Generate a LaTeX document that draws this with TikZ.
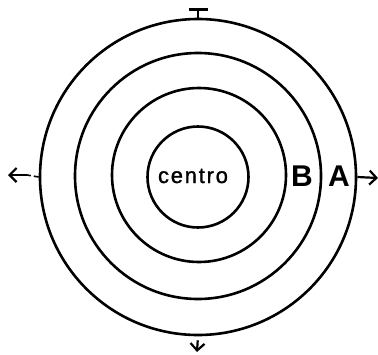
\documentclass[tikz,border=0pt]{standalone}
\usepackage{fontspec}
\setmainfont{Liberation Sans}
\usetikzlibrary{arrows.meta}
\begin{document}
\begin{tikzpicture}[x=1pt,y=-1pt,
  ring/.style={circle,draw,line width=2.6pt,inner sep=0pt},
  lbl/.style={font=\bfseries\fontsize{30}{30}\selectfont,inner sep=0pt},
  arr/.style={line width=2.2pt,-{Straight Barb[length=7pt,width=14pt,line width=2.2pt]}},
  dsh/.style={line width=1.6pt,dash pattern=on 5pt off 3pt}]
\useasboundingbox (0,0) rectangle (378,354);
\node[ring,minimum size=316pt] (outer) at (198,177) {};
\node[ring,minimum size=246pt] (second) at (198,176) {};
\node[ring,minimum size=174pt] (third) at (199,175) {};
\node[ring,minimum size=101pt] (inner) at (198,177) {};
\node[font=\fontsize{22}{22}\selectfont\addfontfeature{LetterSpace=8,FakeBold=1.2},inner sep=0pt] (centro) at (193,176) {centro};
\node[lbl] (B) at (302,176) {B};
\node[lbl] (A) at (339,176) {A};
% left arrow
\coordinate (lm) at (27,175);
\coordinate (lt) at (8,175);
\draw[dsh] (outer.west) -- (lm);
\draw[arr] (lm) -- (lt);
% right arrow
\coordinate (rt) at (378,178);
\draw[arr] (outer.east) -- (rt);
% top tee
\coordinate (tt) at (198,8);
\draw[line width=2.2pt,-{Bar[width=19pt,line width=2.6pt]}] (outer.north) -- (tt);
% bottom arrow
\coordinate (bt) at (197,352);
\draw[arr,shorten <=4pt] (outer.south) -- (bt);
\end{tikzpicture}
\end{document}
